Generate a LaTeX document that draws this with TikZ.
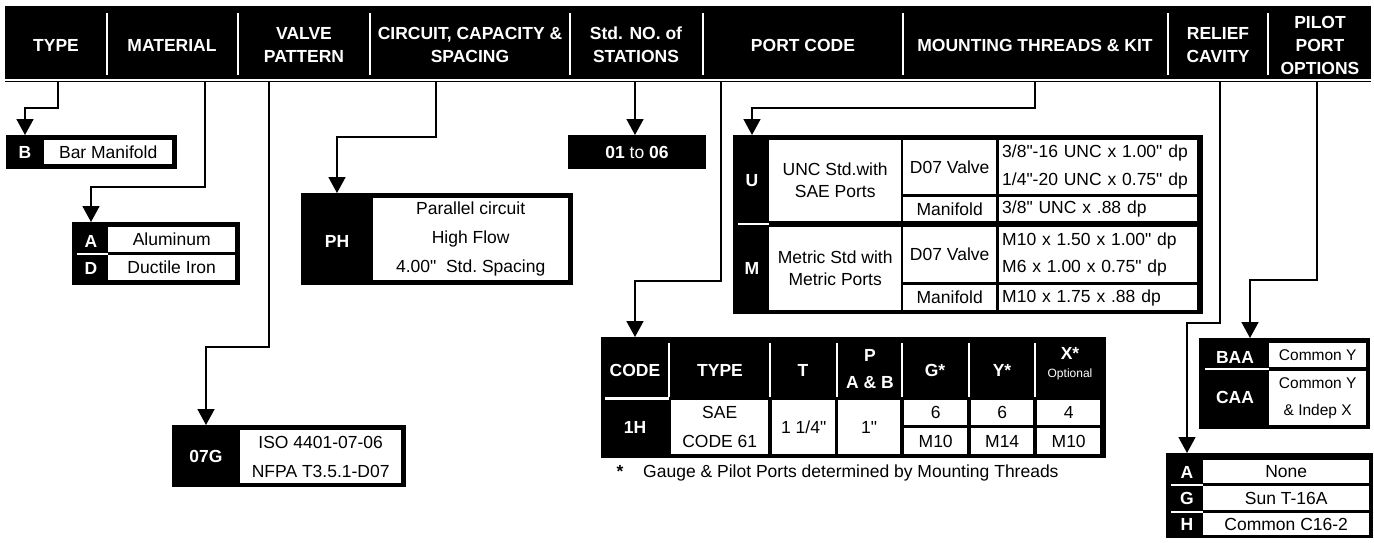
\documentclass[tikz,border=0pt]{standalone}
\usepackage{fontspec}
\setmainfont{Liberation Sans}[Ligatures=TeXOff]
\usetikzlibrary{arrows.meta}
\newcommand{\fs}{\fontsize{17.5}{21}\selectfont\frenchspacing}
\newcommand{\sm}{\fontsize{15.5}{27}\selectfont\frenchspacing}
\tikzset{wh/.style 2 args={minimum width=#1,minimum height=#2}}

\begin{document}
\begin{tikzpicture}[x=1pt,y=-1pt,font=\fs]
  \tikzstyle{blk}=[fill=black,inner sep=0pt,anchor=north west]
  \tikzstyle{cell}=[fill=white,inner sep=0pt,anchor=north west,align=center]
  \tikzstyle{spec}=[cell,inner xsep=3pt,text width=192pt,align=left,font=\fontsize{17.5}{28}\selectfont]
  \tikzstyle{codetxt}=[text=white,font=\fs\bfseries]
  \tikzstyle{hd}=[text=white,align=center,font=\fontsize{17.5}{23}\selectfont\bfseries]
  \tikzstyle{tall}=[font=\fontsize{17.5}{29}\selectfont\frenchspacing]
  \tikzstyle{arr}=[-{Triangle[width=17pt,length=16pt]},line width=1.6pt]
  \tikzstyle{gap}=[white,line width=2.5pt]
  \useasboundingbox (0,0) rectangle (1374,542);

  % header bar
  \node[blk,wh={1366}{73}] (bar) at (5,6) {};
  \draw[line width=1.6pt] (5,81.5) -- (1371,81.5);
  \foreach \x in {107,238,370,570,703,903,1168,1268}
    \draw[gap] (\x,13) -- (\x,75);
  \node[hd] (hType) at (56,45) {TYPE};
  \node[hd] (hMat) at (172,45) {MATERIAL};
  \node[hd] (hValve) at (304,45) {VALVE\\PATTERN};
  \node[hd] (hCirc) at (470,45) {CIRCUIT, CAPACITY \&\\SPACING};
  \node[hd] (hStat) at (636,45) {Std. NO. of\\STATIONS};
  \node[hd] (hPort) at (803,45) {PORT CODE};
  \node[hd] (hMount) at (1035,45) {MOUNTING THREADS \& KIT};
  \node[hd] (hRelief) at (1218,45) {RELIEF\\CAVITY};
  \node[hd] (hPilot) at (1320,45) {PILOT\\PORT\\OPTIONS};

  % connector starts under the bar
  \coordinate (sType) at (58,82);
  \coordinate (sMat) at (205,82);
  \coordinate (sValve) at (269,82);
  \coordinate (sCirc) at (436,82);
  \coordinate (sStat) at (635,82);
  \coordinate (sPort) at (721,82);
  \coordinate (sMount) at (1035,82);
  \coordinate (sRelief) at (1220,82);
  \coordinate (sPilot) at (1317,82);

  % type
  \node[blk,wh={171}{34}] (boxB) at (6,135) {};
  \node[cell,wh={128}{24}] (cB) at (44,140) {Bar Manifold};
  \node[codetxt] (kB) at (25,152) {B};
  \draw[arr] (sType) -- ++(0,26) -| (boxB.north -| kB);

  % material
  \node[blk,wh={168}{63}] (boxAD) at (72,222) {};
  \node[cell,wh={127}{25}] (cA) at (108,227) {Aluminum};
  \node[cell,wh={127}{25}] (cD) at (108,255) {Ductile Iron};
  \node[codetxt] (kA) at (91,241) {A};
  \node[codetxt] (kD) at (91,268) {D};
  \draw[gap,line width=2pt] (77,253.5) -- (108,253.5);
  \draw[arr] (sMat) -- ++(0,105) -| (boxAD.north -| kA);

  % valve pattern
  \node[blk,wh={234}{62}] (boxG) at (172,425) {};
  \node[cell,tall,wh={161}{53}] (cG) at (240,430) {ISO 4401-07-06\\NFPA T3.5.1-D07};
  \node[codetxt] (kG) at (206,456) {07G};
  \draw[arr] (sValve) -- ++(0,265) -| (boxG.north -| kG);

  % circuit
  \node[blk,wh={272}{92}] (boxPH) at (301,193) {};
  \node[cell,tall,wh={195}{82}] (cPH) at (373,198) {Parallel circuit\\High Flow\\4.00"~ Std. Spacing};
  \node[codetxt] (kPH) at (337,241) {PH};
  \draw[arr] (sCirc) -- ++(0,55) -| (boxPH.north -| kPH);

  % stations
  \node[blk,wh={138}{34}] (boxS) at (568,135) {};
  \node[codetxt] (kS) at (637,152) {01 \textmd{to} 06};
  \draw[arr] (sStat) -- (boxS.north -| sStat);

  % mounting threads
  \node[blk,wh={470}{179}] (boxMT) at (733,135) {};
  \node[cell,font=\fontsize{17.5}{22}\selectfont,wh={132}{81}] (cUname) at (769,140) {UNC Std.with\\SAE Ports};
  \node[cell,wh={93}{54}] (cUval) at (903,140) {D07 Valve};
  \node[cell,wh={93}{24}] (cUman) at (903,197) {Manifold};
  \node[spec,minimum height=54pt] (cUspec) at (999,140) {3/8"-16 UNC x 1.00" dp\\1/4"-20 UNC x 0.75" dp};
  \node[spec,minimum height=24pt] (cUmspec) at (999,197) {3/8" UNC x .88 dp};
  \node[cell,font=\fontsize{17.5}{22}\selectfont,wh={132}{83}] (cMname) at (769,227) {Metric Std with\\Metric Ports};
  \node[cell,wh={93}{55}] (cMval) at (903,227) {D07 Valve};
  \node[cell,wh={93}{25}] (cMman) at (903,285) {Manifold};
  \node[spec,minimum height=55pt,font=\fontsize{17.5}{27}\selectfont] (cMspec) at (999,227) {M10 x 1.50 x 1.00" dp\\M6 x 1.00 x 0.75" dp};
  \node[spec,minimum height=25pt] (cMmspec) at (999,285) {M10 x 1.75 x .88 dp};
  \node[codetxt] (kU) at (752,181) {U};
  \node[codetxt] (kM) at (752,268) {M};
  \draw[gap,line width=2pt] (738,224) -- (769,224);
  \draw[arr] (sMount) -- ++(0,26) -| (boxMT.north -| kU);

  % port code
  \node[blk,wh={505}{121}] (boxPT) at (601,337) {};
  \foreach \x in {669,770,837,902,969,1035}
    \draw[gap] (\x,343) -- (\x,397);
  \draw[gap] (605,398.5) -- (669,398.5);
  \node[hd] (pCode) at (635,370) {CODE};
  \node[hd] (pType) at (720,370) {TYPE};
  \node[hd] (pT) at (803,370) {T};
  \node[hd] (pP) at (870,355) {P};
  \node[hd] (pAB) at (870,383) {A \& B};
  \node[hd] (pG) at (935,370) {G*};
  \node[hd] (pY) at (1002,370) {Y*};
  \node[hd] (pX) at (1070,353) {X*};
  \node[text=white,font=\fontsize{12}{14}\selectfont] (pXo) at (1070,374) {Optional};
  \node[cell,tall,wh={97}{54}] (cSae) at (671,400) {SAE\\CODE 61};
  \node[cell,wh={63}{54}] (cT) at (772,400) {1 1/4"};
  \node[cell,wh={62}{54}] (cP) at (838,400) {1"};
  \node[cell,wh={63}{25}] (cG1) at (904,400) {6};
  \node[cell,wh={63}{26}] (cG2) at (904,428) {M10};
  \node[cell,wh={62}{25}] (cY1) at (971,400) {6};
  \node[cell,wh={62}{26}] (cY2) at (971,428) {M14};
  \node[cell,wh={63}{25}] (cX1) at (1037,400) {4};
  \node[cell,wh={63}{26}] (cX2) at (1037,428) {M10};
  \node[codetxt] (k1H) at (635,427) {1H};
  \draw[arr] (sPort) -- ++(0,199) -| (boxPT.north -| pCode);
  \node[font=\fs\bfseries] (star) at (620,471) {*};
  \node[anchor=west,inner sep=0pt] (note) at (643,473) {Gauge \& Pilot Ports determined by Mounting Threads};

  % pilot port options
  \node[blk,wh={171}{91}] (boxBC) at (1199,338) {};
  \node[cell,font=\sm,wh={97}{24}] (cBAA) at (1269,343) {Common Y};
  \node[cell,font=\sm,wh={97}{54}] (cCAA) at (1269,371) {Common Y\\\& Indep X};
  \node[codetxt] (kBAA) at (1235,357) {BAA};
  \node[codetxt] (kCAA) at (1235,397) {CAA};
  \draw[gap,line width=2pt] (1205,369) -- (1269,369);
  \draw[arr] (sPilot) -- ++(0,198) -| ([xshift=51pt]boxBC.north west);

  % relief cavity
  \node[blk,wh={207}{85}] (boxR) at (1166,453) {};
  \node[cell,wh={166}{23}] (cNone) at (1203,460) {None};
  \node[cell,wh={166}{24}] (cSun) at (1203,486) {Sun T-16A};
  \node[cell,wh={166}{22}] (cCom) at (1203,513) {Common C16-2};
  \node[codetxt] (kRA) at (1187,472) {A};
  \node[codetxt] (kRG) at (1187,498) {G};
  \node[codetxt] (kRH) at (1187,524) {H};
  \draw[gap,line width=2pt] (1171,484.5) -- (1203,484.5);
  \draw[gap,line width=2pt] (1171,511.5) -- (1203,511.5);
  \draw[arr] (sRelief) -- ++(0,241) -| (boxR.north -| kRA);
\end{tikzpicture}
\end{document}
